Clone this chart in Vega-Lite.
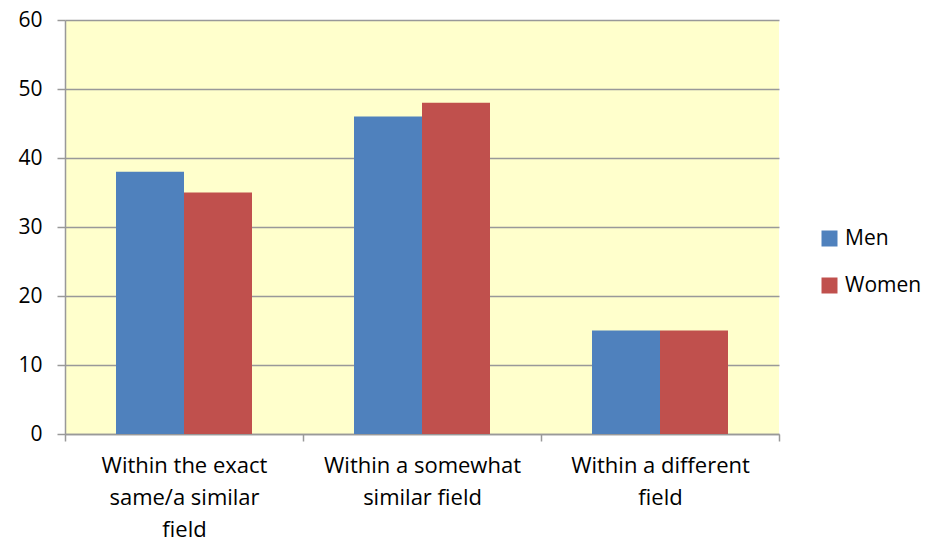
{
  "$schema": "https://vega.github.io/schema/vega-lite/v6.json",
  "autosize": "none",
  "width": 714,
  "height": 414,
  "padding": {"left": 65, "top": 20, "right": 160, "bottom": 111},
  "background": "white",
  "config": {
    "view": {"fill": "#FFFFCC", "stroke": null},
    "font": "Open Sans"
  },
  "data": {
    "values": [
      {"category": "Within the exact same/a similar field", "gender": "Men", "value": 38},
      {"category": "Within the exact same/a similar field", "gender": "Women", "value": 35},
      {"category": "Within a somewhat similar field", "gender": "Men", "value": 46},
      {"category": "Within a somewhat similar field", "gender": "Women", "value": 48},
      {"category": "Within a different field", "gender": "Men", "value": 15},
      {"category": "Within a different field", "gender": "Women", "value": 15}
    ]
  },
  "mark": {"type": "bar"},
  "encoding": {
    "x": {
      "field": "category",
      "type": "nominal",
      "sort": null,
      "title": null,
      "scale": {"paddingInner": 0, "paddingOuter": 0},
      "axis": {
        "labelAngle": 0,
        "tickBand": "extent",
        "domainColor": "#999999",
        "domainWidth": 1.5,
        "tickColor": "#999999",
        "tickWidth": 1.5,
        "tickSize": 7,
        "labelFontSize": 22,
        "labelColor": "#000000",
        "labelPadding": 14,
        "labelLineHeight": 32,
        "labelBaseline": "top",
        "labelLimit": 0,
        "labelExpr": "datum.value == 'Within the exact same/a similar field' ? ['Within the exact','same/a similar','field'] : datum.value == 'Within a somewhat similar field' ? ['Within a somewhat','similar field'] : datum.value == 'Within a different field' ? ['Within a different','field'] : ''"
      }
    },
    "xOffset": {
      "field": "gender",
      "type": "nominal",
      "scale": {"paddingInner": 0, "paddingOuter": 0.75}
    },
    "y": {
      "field": "value",
      "type": "quantitative",
      "title": null,
      "scale": {"domain": [0, 60]},
      "axis": {
        "values": [0, 10, 20, 30, 40, 50, 60],
        "domainColor": "#999999",
        "domainWidth": 1.5,
        "tickColor": "#999999",
        "tickWidth": 1.5,
        "tickSize": 8,
        "gridColor": "#999999",
        "gridWidth": 1.5,
        "labelFontSize": 21,
        "labelColor": "#000000",
        "labelPadding": 15
      }
    },
    "color": {
      "field": "gender",
      "type": "nominal",
      "title": null,
      "scale": {"domain": ["Men", "Women"], "range": ["#4F81BD", "#C0504D"]},
      "legend": {
        "orient": "none",
        "legendX": 754,
        "legendY": 208,
        "symbolType": "square",
        "symbolSize": 256,
        "symbolStrokeWidth": 0,
        "labelFontSize": 21,
        "labelColor": "#000000",
        "rowPadding": 25,
        "labelOffset": 5
      }
    }
  }
}
